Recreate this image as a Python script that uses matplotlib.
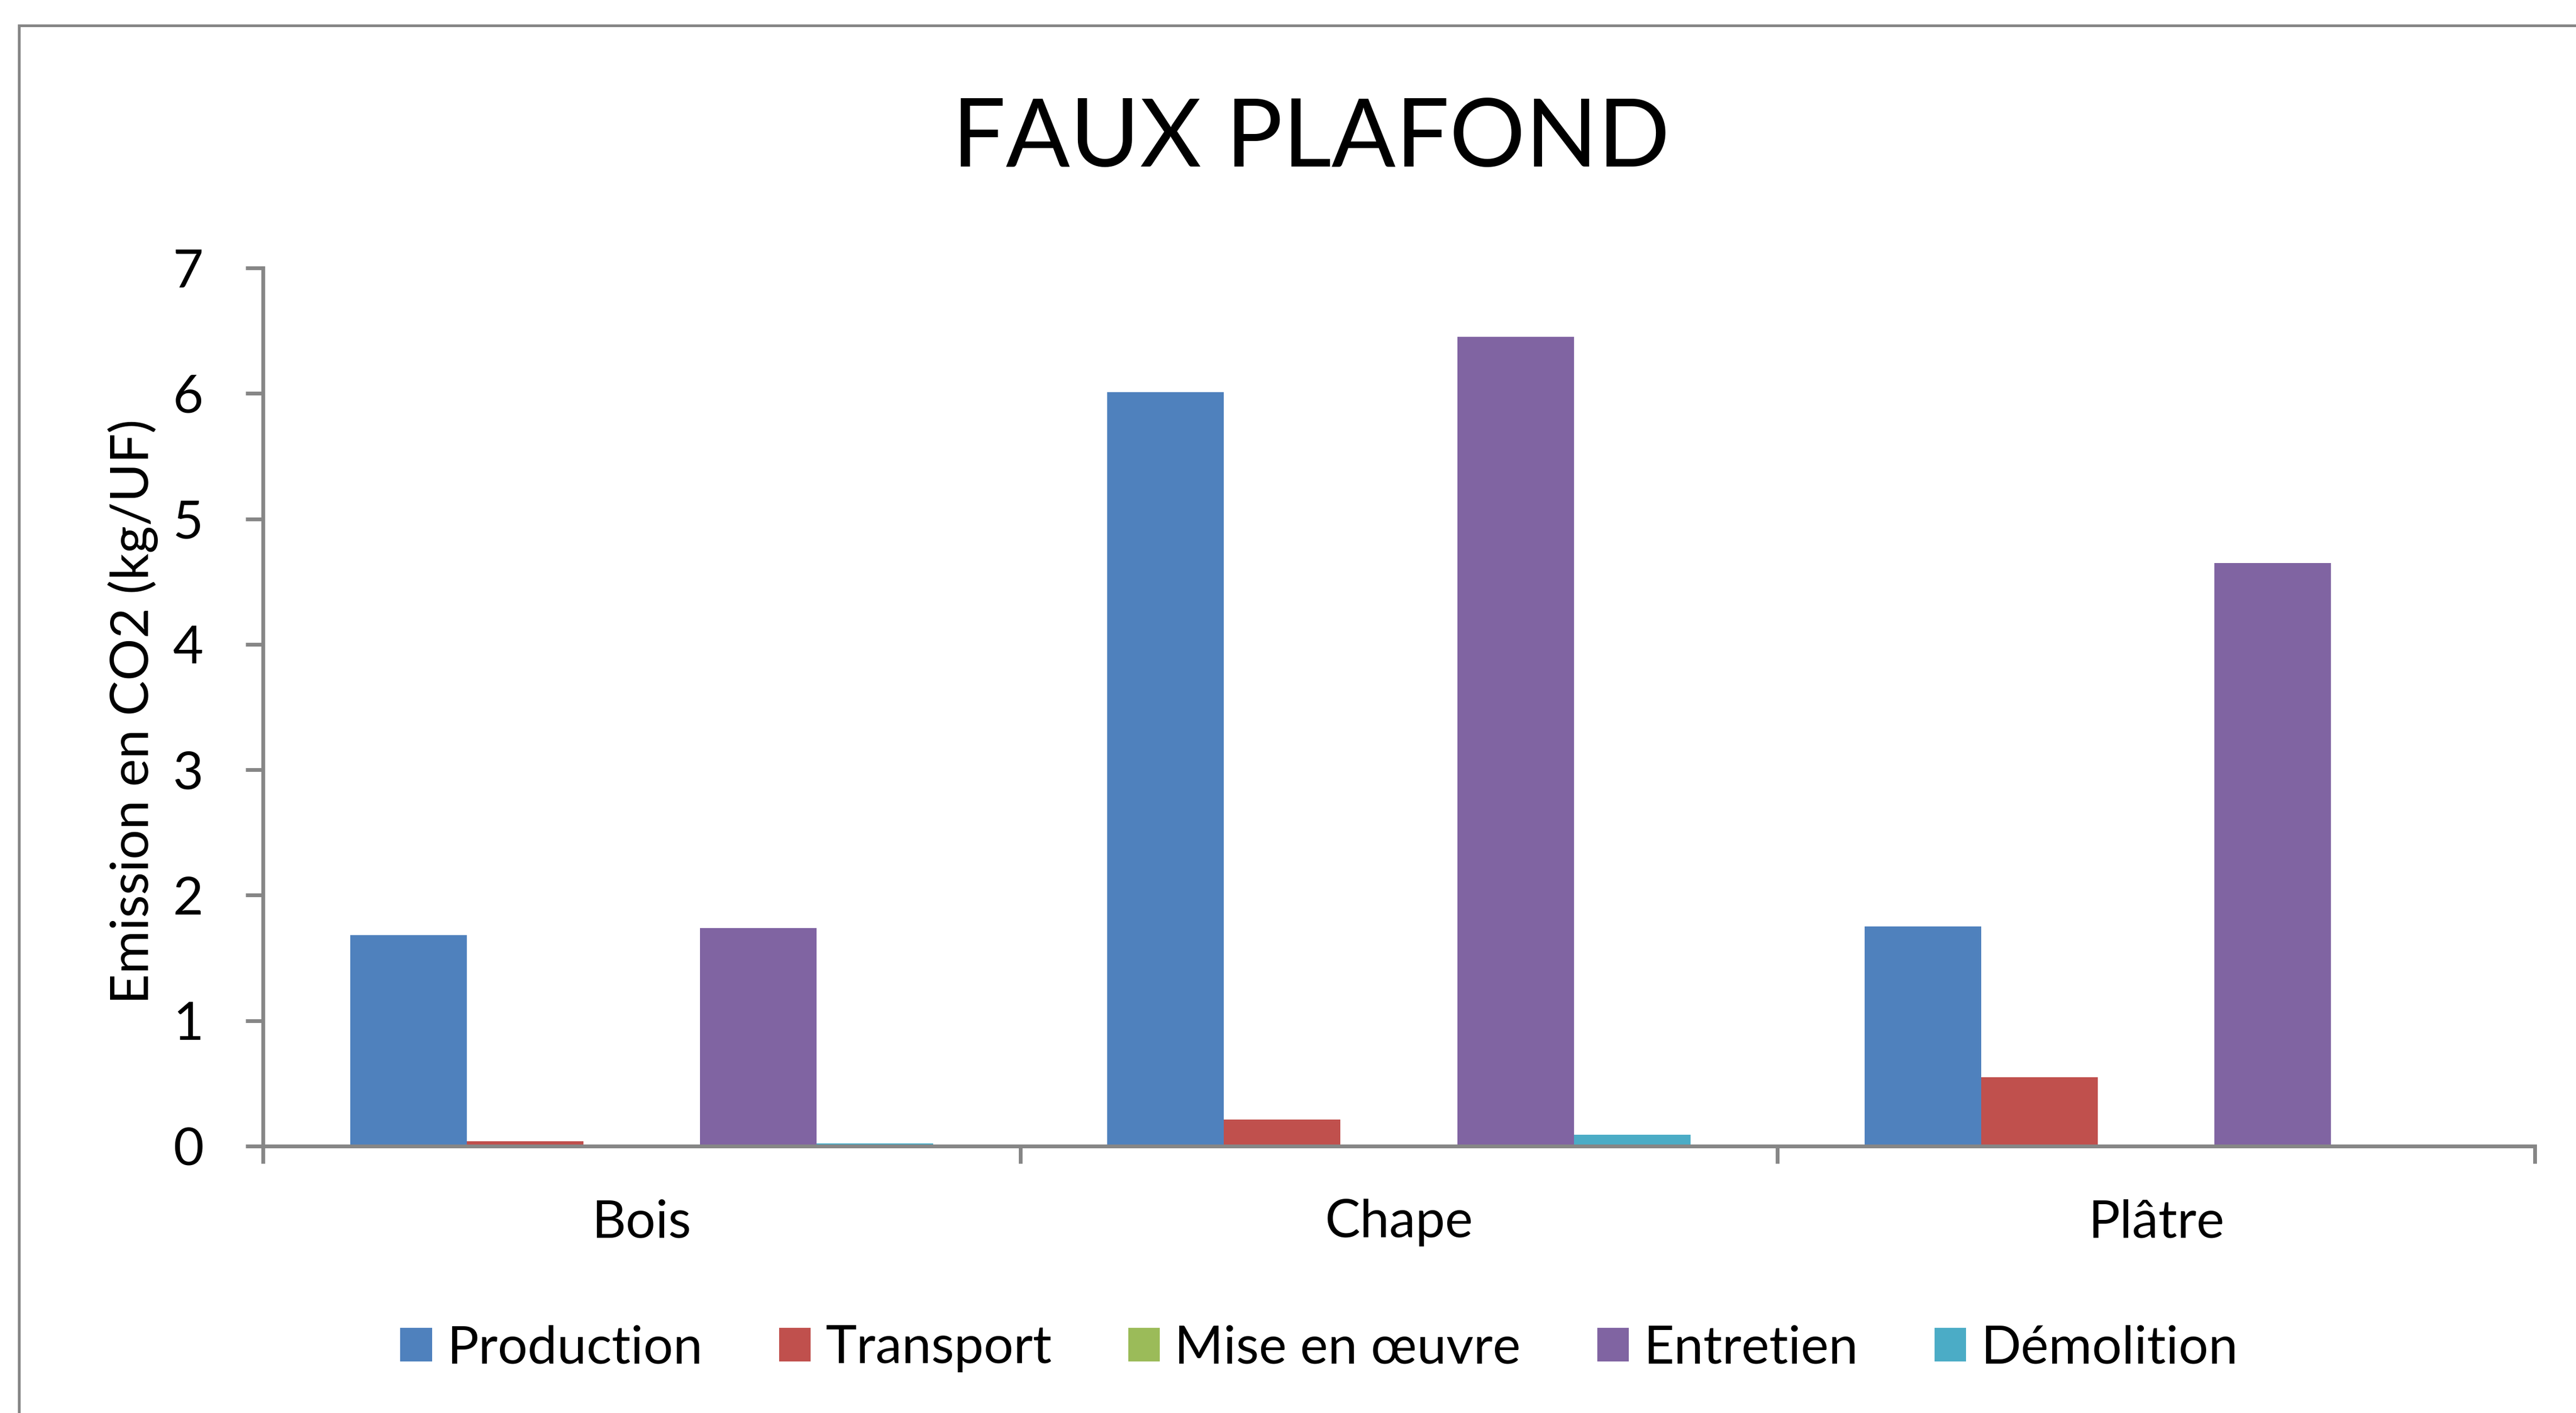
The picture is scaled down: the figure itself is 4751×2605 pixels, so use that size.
import matplotlib.pyplot as plt
from matplotlib.patches import Patch, Rectangle
import numpy as np

plt.rcParams["font.family"] = ["Lato", "DejaVu Sans"]

TITLE = "FAUX PLAFOND"
Y_LABEL = "Emission en CO2 (kg/UF)"

categories = ["Bois", "Chape", "Plâtre"]
stages = ["Production", "Transport", "Mise en œuvre", "Entretien", "Démolition"]

production = [1.68, 6.01, 1.75]
transport = [0.04, 0.21, 0.55]
mise_en_oeuvre = [0.0, 0.0, 0.0]
entretien = [1.74, 6.45, 4.65]
demolition = [0.02, 0.09, 0.01]

series = [production, transport, mise_en_oeuvre, entretien, demolition]
colors = ["#4F81BD", "#C0504D", "#9BBB59", "#8064A2", "#4BACC6"]

y_ticks = [0, 1, 2, 3, 4, 5, 6, 7]

AXIS_GREY = "#868686"
W_PX, H_PX = 4751, 2605
TEXT_SIZE = 70


def fig_x(px):
    return px / W_PX


def fig_y(px):
    return 1 - px / H_PX


fig = plt.figure(figsize=(W_PX / 100, H_PX / 100), dpi=100)
fig.patch.set_facecolor("white")

# chart border, runs off the right and bottom edges
fig.patches.append(Rectangle((fig_x(35), -0.2), 1.5, fig_y(47) + 0.2,
                             transform=fig.transFigure, fill=False,
                             edgecolor=AXIS_GREY, linewidth=3.6))

ax = fig.add_axes([fig_x(485), fig_y(2113), fig_x(4675) - fig_x(485),
                   fig_y(494) - fig_y(2113)])

x = np.arange(len(categories))
bar_w = 0.154
for i, (vals, name, col) in enumerate(zip(series, stages, colors)):
    ax.bar(x + (i - 2) * bar_w, vals, width=bar_w, color=col, label=name,
           linewidth=0)

ax.set_xlim(-0.5, len(categories) - 0.5)
ax.set_ylim(0, 7)
ax.set_yticks(y_ticks)
ax.set_yticklabels([str(t) for t in y_ticks])

# category separators as major ticks, names on minor ticks
ax.set_xticks(np.arange(len(categories) + 1) - 0.5)
ax.set_xticklabels([])
ax.set_xticks(x, minor=True)
ax.set_xticklabels(categories, minor=True)

for side in ["top", "right"]:
    ax.spines[side].set_visible(False)
for side in ["left", "bottom"]:
    ax.spines[side].set_color(AXIS_GREY)
    ax.spines[side].set_linewidth(5)

ax.tick_params(axis="y", which="major", direction="out", length=23, width=5,
               color=AXIS_GREY, labelsize=TEXT_SIZE, pad=56, labelcolor="black")
ax.tick_params(axis="x", which="major", direction="out", length=23, width=5,
               color=AXIS_GREY)
ax.tick_params(axis="x", which="minor", length=0, labelsize=TEXT_SIZE, pad=70,
               labelcolor="black")

ax.set_ylabel(Y_LABEL, fontsize=TEXT_SIZE)
ax.yaxis.set_label_coords(-0.046, 0.495)

fig.text(fig_x(2418), fig_y(307), TITLE, fontsize=126, ha="center",
         va="baseline")

handles = [Patch(facecolor=c, edgecolor="none") for c in colors]
fig.legend(handles, stages, loc="center", ncol=5, frameon=False,
           bbox_to_anchor=(fig_x(2433), fig_y(2486)), fontsize=TEXT_SIZE,
           handlelength=0.6, handleheight=0.6, handletextpad=0.28,
           columnspacing=1.45, borderpad=0)

plt.savefig("out.png", dpi=100, facecolor="white")
